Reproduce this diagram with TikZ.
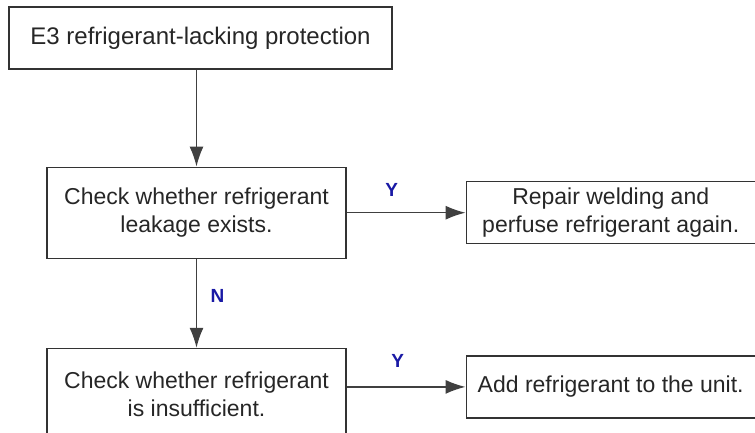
\documentclass[tikz,border=0pt]{standalone}
\usepackage{fontspec}
\setmainfont{Liberation Sans}
\usetikzlibrary{positioning,arrows.meta}

\definecolor{lblblue}{RGB}{25,25,165}

\begin{document}
\begin{tikzpicture}[
  node distance=97pt and 119pt,
  box/.style={rectangle, draw=black!80, line width=1.2pt, inner sep=0pt,
              align=center, text=black!85, font=\fontsize{23}{28}\selectfont},
  start/.style={box, minimum width=383pt, minimum height=62pt, font=\fontsize{24}{28}\selectfont},
  check/.style={box, minimum width=299pt, minimum height=91pt},
  action/.style={box, minimum width=289pt, minimum height=62pt},
  lbl/.style={font=\bfseries\fontsize{19}{19}\selectfont, text=lblblue},
  arr/.style={-{Latex[length=20pt,width=14pt]}, line width=1.5pt, draw=black!75},
]
  \useasboundingbox (0,0) rectangle (755pt,-432pt);

  % Row 1: fault code
  \node[start] (prot) at (200.5pt,-38pt) {E3 refrigerant-lacking protection};

  % Row 2: leakage check
  \node[check, below=97pt of prot, xshift=-4pt] (leak) {Check whether refrigerant\\leakage exists.};
  \node[action, right=of leak] (repair) {Repair welding and\\perfuse refrigerant again.};

  % Row 3: amount check
  \node[check, below=89pt of leak] (short) {Check whether refrigerant\\is insufficient.};
  \node[action, right=of short, yshift=7pt] (addref) {Add refrigerant to the unit.};

  % Arrows
  \draw[arr] (leak.north |- prot.south) -- (leak.north);
  \draw[arr] (leak.east |- repair.west) -- (repair.west)
    node[lbl, pos=0.38, yshift=23pt] {Y};
  \draw[arr] (leak.south) -- (short.north)
    node[lbl, pos=0.5, xshift=21pt, yshift=7pt] {N};
  \draw[arr] (short.east |- addref.west) -- (addref.west)
    node[lbl, pos=0.43, yshift=26pt] {Y};
\end{tikzpicture}
\end{document}
